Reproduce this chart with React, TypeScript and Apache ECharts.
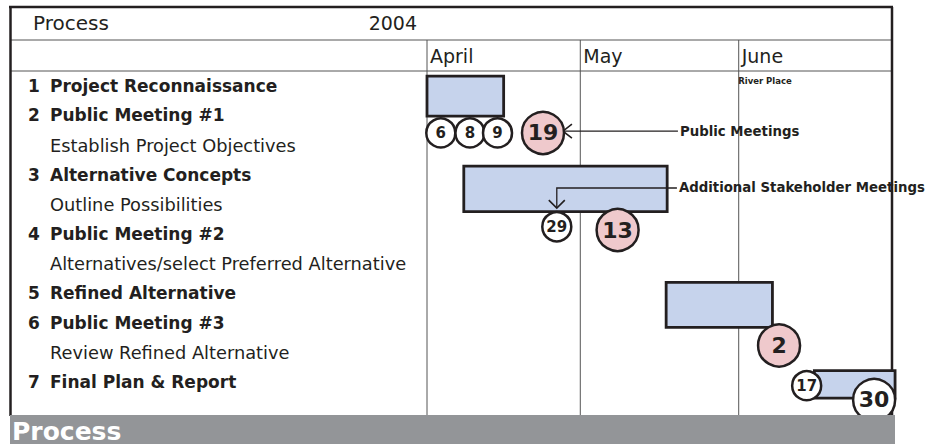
import React, { useEffect, useRef } from "react";
import * as echarts from "echarts";

// ---- data ----
// time axis: days counted from 1 April 2004
const monthNames = ["April", "May", "June"];
const monthStartDays = [0, 30, 61];
const periodEndDay = 91; // 1 July

const rowNumbers = ["1", "2", "", "3", "", "4", "", "5", "6", "", "7"];
const rowLabels = [
  "Project Reconnaissance",
  "Public Meeting #1",
  "Establish Project Objectives",
  "Alternative Concepts",
  "Outline Possibilities",
  "Public Meeting #2",
  "Alternatives/select Preferred Alternative",
  "Refined Alternative",
  "Public Meeting #3",
  "Review Refined Alternative",
  "Final Plan & Report",
];

// task bars (x in days, y in row units)
const taskStart = [0, 7.2, 46.8, 75.8];
const taskEnd = [15, 47, 67.6, 91.6];
const taskRowTop = [0.17, 3.21, 7.14, 10.12];
const taskRowBottom = [1.52, 4.75, 8.66, 11.05];

// meeting circles
const meetingLabels = ["6", "8", "9", "19", "29", "13", "2", "17", "30"];
const meetingDay = [2.7, 8.4, 13.8, 22.7, 25.4, 37.3, 68.9, 74.3, 87.5];
const meetingRow = [2.09, 2.09, 2.09, 2.09, 5.26, 5.37, 9.27, 10.63, 11.11];
const meetingKind = ["small", "small", "small", "public", "small", "public", "public", "small", "large"];

// annotations
const annoTexts = ["Public Meetings", "Additional Stakeholder Meetings"];
const annoTextDay = [49.5, 49.3];
const annoRow = [2.03, 3.95];
const annoHeadDay = [26.6, 25.4];
const annoHeadRow = [2.03, 4.63];

const noteTexts = ["River Place"];
const noteDay = [60.9];
const noteRow = [0.34];

const yMin = -1.05;
const yMax = 11.62;

const INK = "#231f20";
const FONT = "DejaVu Sans";

function meetingItem(d: number, i: number) {
  const kind = meetingKind[i];
  let size = 42;
  let fsize = 22;
  if (kind === "small") {
    size = 29;
    fsize = 15;
  }
  let fill = "#ffffff";
  if (kind === "public") fill = "#efc9cc";
  return {
    value: [d, meetingRow[i]],
    symbolSize: size,
    itemStyle: { color: fill, borderColor: INK, borderWidth: 2.5, opacity: 1 },
    label: { fontSize: fsize },
  };
}

function monthItem(params: any, api: any) {
  const d = api.value(0);
  const top = api.coord([d, yMin]);
  const bot = api.coord([d, yMax]);
  const lab = api.coord([d, -0.52]);
  return {
    type: "group",
    children: [
      { type: "line", shape: { x1: top[0], y1: top[1], x2: bot[0], y2: bot[1] }, style: { stroke: "#555", lineWidth: 1 } },
      { type: "text", x: lab[0] + 3, y: lab[1], style: { text: monthNames[params.dataIndex], font: "19px '" + FONT + "'", fill: INK, textVerticalAlign: "middle" } },
    ],
  };
}

function rowItem(params: any, api: any) {
  const i = params.dataIndex;
  const p = api.coord([0, api.value(1) + 0.5]);
  const bold = rowNumbers[i] !== "";
  const children: any[] = [];
  if (bold) {
    children.push({ type: "text", x: 28, y: p[1], style: { text: rowNumbers[i], font: "bold 17px '" + FONT + "'", fill: INK, textVerticalAlign: "middle" } });
  }
  let font = "17.8px '" + FONT + "'";
  if (bold) font = "bold 17px '" + FONT + "'";
  children.push({ type: "text", x: 50, y: p[1], style: { text: rowLabels[i], font: font, fill: INK, textVerticalAlign: "middle" } });
  return { type: "group", children: children };
}

function taskItem(params: any, api: any) {
  const p1 = api.coord([api.value(0), api.value(2)]);
  const p2 = api.coord([api.value(1), api.value(3)]);
  return {
    type: "rect",
    shape: { x: p1[0], y: p1[1], width: p2[0] - p1[0], height: p2[1] - p1[1] },
    style: { fill: "#c6d3ec", stroke: INK, lineWidth: 2.8 },
  };
}

function annoItem(params: any, api: any) {
  const i = params.dataIndex;
  const pt = api.coord([api.value(0), api.value(1)]);
  const pc = api.coord([api.value(2), api.value(1)]);
  const ph = api.coord([api.value(2), api.value(3)]);
  const vertical = Math.abs(ph[1] - pc[1]) > 1;
  let pts: any[] = [[pt[0] - 2, pt[1]], ph];
  let chev: any[] = [[ph[0] + 9, ph[1] - 7], ph, [ph[0] + 9, ph[1] + 7]];
  if (vertical) {
    pts = [[pt[0] - 2, pt[1]], pc, ph];
    chev = [[ph[0] - 8, ph[1] - 8], ph, [ph[0] + 8, ph[1] - 8]];
  }
  return {
    type: "group",
    children: [
      { type: "polyline", shape: { points: pts }, style: { stroke: INK, lineWidth: 1.3, fill: "none" } },
      { type: "polyline", shape: { points: chev }, style: { stroke: INK, lineWidth: 1.6, fill: "none" } },
      { type: "text", x: pt[0], y: pt[1], style: { text: annoTexts[i], font: "bold 13.3px '" + FONT + "'", fill: INK, textVerticalAlign: "middle" } },
    ],
  };
}

function noteItem(params: any, api: any) {
  const p = api.coord([api.value(0), api.value(1)]);
  return { type: "text", x: p[0], y: p[1], style: { text: noteTexts[params.dataIndex], font: "bold 8.5px '" + FONT + "'", fill: INK, textVerticalAlign: "middle" } };
}

export default function App() {
  const ref = useRef<HTMLDivElement>(null);
  useEffect(() => {
    if (!ref.current) return;
    const chart = echarts.init(ref.current, undefined, { renderer: "svg" });

    const option: any = {
      animation: false,
      backgroundColor: "#ffffff",
      grid: { left: 427, right: 48, top: 40, bottom: 29 },
      xAxis: { type: "value", min: 0, max: periodEndDay, show: false },
      yAxis: { type: "value", min: yMin, max: yMax, inverse: true, show: false },
      graphic: [
        { type: "line", z: 1, shape: { x1: 10, y1: 40, x2: 892, y2: 40 }, style: { stroke: "#555", lineWidth: 1 } },
        { type: "line", z: 1, shape: { x1: 10, y1: 71, x2: 892, y2: 71 }, style: { stroke: "#555", lineWidth: 1 } },
        { type: "line", z: 1, shape: { x1: 9, y1: 7, x2: 893, y2: 7 }, style: { stroke: INK, lineWidth: 2.5 } },
        { type: "line", z: 1, shape: { x1: 10.5, y1: 7, x2: 10.5, y2: 416 }, style: { stroke: INK, lineWidth: 2.5 } },
        { type: "line", z: 1, shape: { x1: 892, y1: 7, x2: 892, y2: 416 }, style: { stroke: INK, lineWidth: 2.5 } },
        { type: "text", z: 1, x: 33, y: 23, style: { text: "Process", font: "20px '" + FONT + "'", fill: INK, textVerticalAlign: "middle" } },
        { type: "text", z: 1, x: 417, y: 23, style: { text: "2004", font: "19px '" + FONT + "'", fill: INK, textAlign: "right", textVerticalAlign: "middle" } },
        { type: "rect", z: 20, shape: { x: 10, y: 415, width: 885, height: 29 }, style: { fill: "#939598" } },
        { type: "text", z: 21, x: 12, y: 431, style: { text: "Process", font: "bold 25px '" + FONT + "'", fill: "#ffffff", textVerticalAlign: "middle" } },
      ],
      series: [
        {
          type: "custom",
          name: "months",
          z: 1,
          clip: false,
          silent: true,
          data: monthStartDays.map((d, i) => [d, i]),
          encode: { x: 0 },
          renderItem: monthItem,
        },
        {
          type: "custom",
          name: "rows",
          z: 2,
          clip: false,
          silent: true,
          data: rowLabels.map((_, i) => [0, i]),
          encode: { x: 0, y: 1 },
          renderItem: rowItem,
        },
        {
          type: "custom",
          name: "tasks",
          z: 3,
          clip: false,
          data: taskStart.map((s, i) => [s, taskEnd[i], taskRowTop[i], taskRowBottom[i]]),
          encode: { x: [0, 1], y: [2, 3] },
          renderItem: taskItem,
        },
        {
          type: "custom",
          name: "annotations",
          z: 4,
          clip: false,
          silent: true,
          data: annoTexts.map((_, i) => [annoTextDay[i], annoRow[i], annoHeadDay[i], annoHeadRow[i]]),
          encode: { x: [0, 2], y: [1, 3] },
          renderItem: annoItem,
        },
        {
          type: "custom",
          name: "notes",
          z: 4,
          clip: false,
          silent: true,
          data: noteTexts.map((_, i) => [noteDay[i], noteRow[i]]),
          encode: { x: 0, y: 1 },
          renderItem: noteItem,
        },
        {
          type: "scatter",
          name: "meetings",
          z: 5,
          symbol: "circle",
          clip: false,
          itemStyle: { opacity: 1 },
          emphasis: { disabled: true },
          data: meetingDay.map(meetingItem),
          label: {
            show: true,
            position: "inside",
            formatter: (p: any) => meetingLabels[p.dataIndex],
            color: INK,
            opacity: 1,
            fontWeight: "bold",
            fontFamily: FONT,
          },
        },
      ],
    };
    chart.setOption(option);
    return () => chart.dispose();
  }, []);
  return <div ref={ref} style={{ width: 940, height: 444, position: "absolute", left: 0, top: 0 }} />;
}
